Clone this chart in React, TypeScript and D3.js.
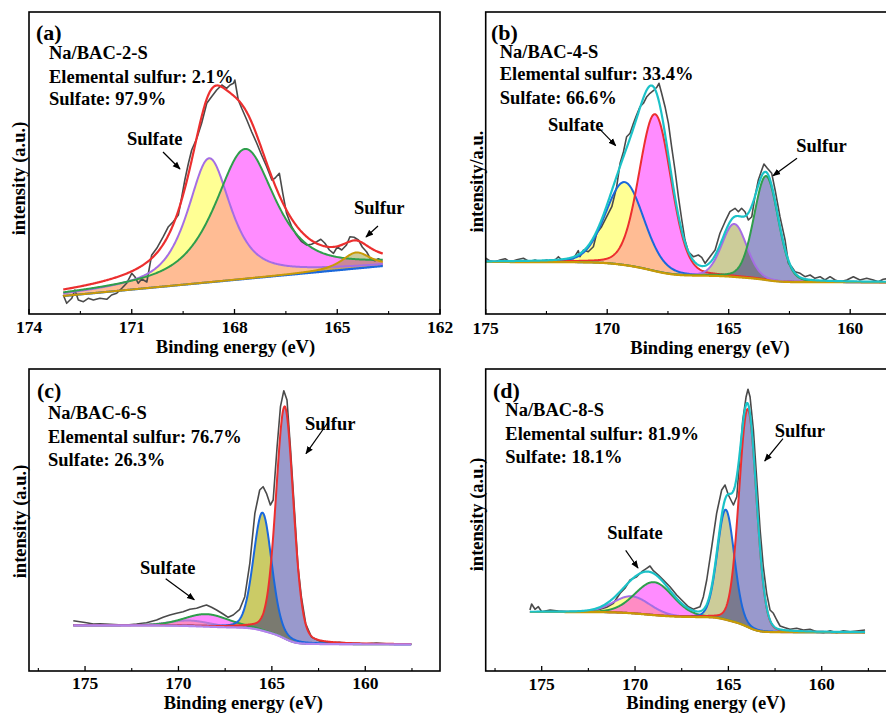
import React from "react";
import * as d3 from "d3";

type Pt = [number, number];

// ===== (a) Na/BAC-2-S =====
const rawA: Pt[] = [
  [173.0, 19.0], [172.9, 10.7], [172.75, 15.7], [172.66, 24.0], [172.56, 14.0], [172.41, 12.3], [172.27, 15.7],
  [172.12, 14.0], [171.93, 15.7], [171.73, 14.7], [171.59, 19.0], [171.44, 20.7], [171.29, 25.7], [171.15, 30.7],
  [171.0, 40.7], [170.91, 37.3], [170.81, 30.7], [170.71, 35.0], [170.56, 32.0], [170.42, 58.7], [170.27, 65.7],
  [170.08, 77.3], [169.93, 87.3], [169.79, 92.3], [169.64, 99.0], [169.54, 117], [169.45, 134], [169.35, 150],
  [169.25, 164], [169.1, 175.7], [168.96, 190.7], [168.81, 210.7], [168.67, 217.3], [168.52, 224], [168.37, 229],
  [168.23, 225.7], [168.13, 229], [168.03, 230.7], [167.99, 234], [167.89, 214], [167.79, 205.7], [167.64, 194],
  [167.5, 182.3], [167.35, 170.7], [167.21, 159], [167.06, 147.3], [166.91, 134], [166.82, 135.7], [166.69, 140.7],
  [166.59, 120.7], [166.48, 100.7], [166.33, 87.3], [166.19, 79], [166.04, 72.3], [165.89, 69], [165.75, 69.7],
  [165.6, 72.3], [165.48, 74.7], [165.36, 70.7], [165.23, 64], [165.11, 60.7], [165.0, 67], [164.87, 64],
  [164.73, 69], [164.63, 77.3], [164.51, 76.7], [164.38, 74], [164.27, 67], [164.14, 62], [164.02, 54.7],
  [163.9, 53.3], [163.8, 55.3], [163.7, 53.3],
];
const centersA = [168.74, 167.69, 164.45];
const heightsA = [124, 130, 16];
const fwhmA = [1.5, 2.1, 1.0];
const bgLineA: Pt[] = [[173.0, 18], [163.67, 48]];
const majorA = [174, 171, 168, 165, 162];
const minorA = [172.5, 169.5, 166.5, 163.5];

// ===== (b) Na/BAC-4-S =====
const rawB: Pt[] = [
  [175.0, 55.7], [174.84, 53.3], [174.63, 52], [174.41, 54], [174.2, 55.3], [174.0, 52], [173.72, 54.3],
  [173.45, 55.7], [173.18, 52], [172.97, 54], [172.76, 52], [172.49, 54], [172.22, 52.3], [172.01, 57.3],
  [171.87, 54], [171.67, 55.3], [171.39, 55.3], [171.19, 63.3], [171.12, 57.3], [170.98, 64], [170.78, 62.3],
  [170.57, 67.3], [170.43, 80.7], [170.23, 87.3], [170.02, 97.3], [169.81, 107.3], [169.61, 127.3],
  [169.47, 150.7], [169.33, 162.3], [169.2, 177.3], [169.06, 180.7], [168.92, 190.7], [168.79, 199],
  [168.65, 207.3], [168.51, 210.7], [168.37, 217.3], [168.24, 220.7], [168.1, 223.3], [167.96, 226.7],
  [167.87, 230.7], [167.76, 220.7], [167.62, 207.3], [167.48, 190.7], [167.35, 167.3], [167.21, 144],
  [167.07, 117.3], [166.93, 94], [166.8, 74], [166.66, 62.3], [166.45, 57.3], [166.25, 59], [166.11, 56.7],
  [165.97, 50.7], [165.77, 57.3], [165.56, 64], [165.36, 80.7], [165.15, 92.3], [164.95, 102.3], [164.74, 105.7],
  [164.6, 102.3], [164.47, 105.7], [164.33, 102.3], [164.19, 94], [164.05, 97.3], [163.92, 117.3], [163.78, 134],
  [163.64, 144], [163.55, 150], [163.41, 145.7], [163.23, 140.7], [163.09, 124], [162.89, 97.3], [162.68, 74],
  [162.54, 50.7], [162.41, 47.3], [162.27, 42.3], [162.06, 40.7], [161.86, 37.3], [161.65, 39], [161.45, 35.7],
  [161.24, 37.3], [161.04, 34], [160.83, 37.3], [160.62, 34], [160.42, 32.3], [160.14, 34], [159.87, 37.3],
  [159.6, 34], [159.32, 35.7], [159.05, 34], [158.84, 32.3], [158.64, 34.7], [158.37, 35.7],
];
const centersB = [169.28, 168.03, 164.77, 163.46];
const heightsB = [83, 157, 53, 104];
const fwhmB = [1.85, 1.55, 1.2, 1.17];
const shirleyB = [52, 31.7];
const majorB = [175, 170, 165, 160];
const minorB = [172.5, 167.5, 162.5];

// ===== (c) Na/BAC-6-S =====
const rawC: Pt[] = [
  [175.63, 50.3], [175.27, 49.3], [174.92, 48.3], [174.56, 47], [174.2, 47.3], [173.67, 46.7], [173.2, 46.3],
  [172.78, 46], [172.24, 47], [171.71, 48.3], [171.17, 51], [170.82, 53.7], [170.46, 56], [170.1, 57.7],
  [169.75, 59.3], [169.39, 61.7], [169.03, 62.7], [168.68, 65], [168.5, 66], [168.23, 63.7], [167.96, 61],
  [167.61, 57], [167.34, 53.7], [167.07, 56], [166.72, 61.7], [166.45, 74.3], [166.18, 107.7], [165.91, 157.7],
  [165.65, 181], [165.47, 184.3], [165.29, 177.7], [165.08, 166], [164.93, 171], [164.72, 224.3], [164.54, 264.3],
  [164.36, 280.3], [164.19, 271], [164.01, 224.3], [163.78, 157.7], [163.6, 104.3], [163.42, 74], [163.19, 47.3],
  [162.88, 34], [162.44, 30], [161.9, 28.3], [161.4, 28.7], [161.01, 28], [160.5, 27.6], [159.94, 27.3],
  [159.4, 28], [158.87, 27.3], [158.3, 27], [157.54, 26.7],
];
const centersC = [169.39, 168.5, 165.5, 164.31];
const heightsC = [5.5, 12.5, 118, 232];
const fwhmC = [2.6, 2.8, 1.15, 1.1];
const shirleyC = [45.7, 26.7];
const majorC = [175, 170, 165, 160];
const minorC = [177.5, 172.5, 167.5, 162.5, 157.5];

// ===== (d) Na/BAC-8-S =====
const rawD: Pt[] = [
  [175.63, 61], [175.54, 67], [175.36, 61.7], [175.18, 64.3], [175.0, 59.3], [174.55, 61], [174.11, 60],
  [173.66, 59.3], [173.13, 58.7], [172.59, 59.3], [172.23, 61], [171.88, 61.7], [171.52, 63.7], [171.16, 67.7],
  [170.8, 77.7], [170.54, 82.7], [170.27, 91], [169.91, 94.3], [169.64, 99.3], [169.38, 102.7], [169.2, 105],
  [169.02, 100.3], [168.75, 96], [168.48, 91], [168.13, 84.3], [167.77, 76], [167.41, 69.3], [167.14, 64.3],
  [166.88, 61.7], [166.52, 64.3], [166.34, 74.3], [166.16, 91], [165.89, 124.3], [165.63, 157.7], [165.36, 181],
  [165.18, 186], [165.0, 176], [164.73, 166], [164.55, 174.3], [164.41, 207.7], [164.23, 251], [164.05, 274.3],
  [163.95, 281.7], [163.84, 274.3], [163.66, 241], [163.48, 191], [163.3, 141], [163.13, 104.3], [162.95, 77.7],
  [162.77, 61], [162.59, 57.7], [162.41, 51], [162.23, 45], [161.96, 43.3], [161.7, 41.7], [161.34, 42.7],
  [160.98, 41], [160.63, 41.7], [160.27, 39.3], [159.91, 38.3], [159.55, 40.3], [159.2, 38.3], [158.84, 40.3],
  [158.48, 39.3], [158.13, 40], [157.68, 41],
];
const centersD = [170.18, 168.98, 165.14, 163.96];
const heightsD = [17, 33, 110, 218];
const fwhmD = [2.3, 2.4, 1.07, 1.1];
const shirleyD = [59, 38.7];
const majorD = [175, 170, 165, 160];
const minorD = [177.5, 172.5, 167.5, 162.5, 157.5];

// ---------- styling ----------
const FONT =
  '"Liberation Serif", Tinos, "Times New Roman", Times, "Nimbus Roman", FreeSerif, "Noto Serif", "DejaVu Serif", serif';
const C = {
  purple: "#a56ee4",
  green: "#2f9e4c",
  gold: "#c99a06",
  blue: "#1a68dc",
  red: "#ec2f2f",
  cyan: "#1cc2c8",
  lav: "#b184ec",
  raw: "#4a4a4a",
};

function pv(E: number, c: number, h: number, w: number, eta: number) {
  const hw = w / 2;
  const r2 = ((E - c) / hw) ** 2;
  return h * (eta / (1 + r2) + (1 - eta) * Math.exp(-Math.LN2 * r2));
}

interface Comp { line: string; fill: string; op: number }
interface Cfg {
  id: string;
  left: number; right: number; top: number; bottom: number;
  domain: [number, number];
  majors: number[]; minors: number[];
  raw: Pt[];
  centers: number[]; heights: number[]; fwhm: number[]; eta: number;
  bgLine?: Pt[]; shirley?: number[];
  fitRange: [number, number];
  comps: Comp[]; fillOrder: number[];
  baseColor: string; baseOnTop: boolean; envColor: string | null;
  tickBase: number; title: [number, number];
  ylabel: string; ylab: [number, number];
  label: string; labelPos: [number, number];
  lines: string[]; linesX: number; linesY: number[];
  notes: { t: string; x: number; y: number; a: [number, number, number, number] }[];
}

const YEL: Comp = { line: C.purple, fill: "#ffff00", op: 0.42 };
const MAG: Comp = { line: C.green, fill: "#ff00ff", op: 0.45 };
const NAVY: Comp = { line: C.red, fill: "#000080", op: 0.4 };

const panels: Cfg[] = [
  {
    id: "a", left: 29, right: 440, top: 12, bottom: 314, domain: [174, 162],
    majors: majorA, minors: minorA, raw: rawA,
    centers: centersA, heights: heightsA, fwhm: fwhmA, eta: 0.75, bgLine: bgLineA,
    fitRange: [173.0, 163.67],
    comps: [YEL, MAG, { line: C.gold, fill: "#808000", op: 0.4 }], fillOrder: [1, 0, 2],
    baseColor: C.blue, baseOnTop: false, envColor: C.red,
    tickBase: 333, title: [235.5, 352.5],
    ylabel: "intensity (a.u.)", ylab: [25, 178.5],
    label: "(a)", labelPos: [36, 39.5],
    lines: ["Na/BAC-2-S", "Elemental sulfur: 2.1%", "Sulfate: 97.9%"], linesX: 49, linesY: [58.5, 82.5, 105],
    notes: [
      { t: "Sulfate", x: 127, y: 145, a: [163, 152, 180, 169] },
      { t: "Sulfur", x: 354, y: 214, a: [378, 226, 366, 237] },
    ],
  },
  {
    id: "b", left: 485.7, right: 898.8, top: 12, bottom: 314, domain: [175, 158],
    majors: majorB, minors: minorB, raw: rawB,
    centers: centersB, heights: heightsB, fwhm: fwhmB, eta: 0.15, shirley: shirleyB,
    fitRange: [175, 158.2],
    comps: [{ line: C.blue, fill: "#ffff00", op: 0.42 }, { line: C.red, fill: "#ff00ff", op: 0.45 },
      { line: C.purple, fill: "#808000", op: 0.4 }, { line: C.green, fill: "#000080", op: 0.4 }],
    fillOrder: [1, 0, 2, 3],
    baseColor: C.gold, baseOnTop: true, envColor: C.cyan,
    tickBase: 333.5, title: [710, 353.5],
    ylabel: "intensity/a.u.", ylab: [483, 181.5],
    label: "(b)", labelPos: [491, 39.5],
    lines: ["Na/BAC-4-S", "Elemental sulfur: 33.4%", "Sulfate: 66.6%"], linesX: 499.7, linesY: [57.5, 80, 103.5],
    notes: [
      { t: "Sulfate", x: 548, y: 131, a: [599, 128.3, 615.7, 145.7] },
      { t: "Sulfur", x: 796.3, y: 151.5, a: [797, 158.3, 773, 175.7] },
    ],
  },
  {
    id: "c", left: 29, right: 440, top: 369, bottom: 671, domain: [178, 156],
    majors: majorC, minors: minorC, raw: rawC,
    centers: centersC, heights: heightsC, fwhm: fwhmC, eta: 0.2, shirley: shirleyC,
    fitRange: [175.63, 157.54],
    comps: [{ line: "#b678d8", fill: "#ffff00", op: 0.42 }, MAG,
      { line: C.blue, fill: "#a8a800", op: 0.6 }, NAVY],
    fillOrder: [0, 1, 2, 3],
    baseColor: C.lav, baseOnTop: true, envColor: null,
    tickBase: 689, title: [243.3, 708.5],
    ylabel: "intensity (a.u.)", ylab: [26, 521.5],
    label: "(c)", labelPos: [37, 398],
    lines: ["Na/BAC-6-S", "Elemental sulfur: 76.7%", "Sulfate: 26.3%"], linesX: 48, linesY: [418.7, 443, 465.7],
    notes: [
      { t: "Sulfate", x: 140, y: 573.7, a: [165.7, 578.7, 194.3, 599.7] },
      { t: "Sulfur", x: 305, y: 429.7, a: [328.3, 422, 306, 453.7] },
    ],
  },
  {
    id: "d", left: 485.7, right: 896.4, top: 369, bottom: 671, domain: [178, 156],
    majors: majorD, minors: minorD, raw: rawD,
    centers: centersD, heights: heightsD, fwhm: fwhmD, eta: 0.1, shirley: shirleyD,
    fitRange: [175.63, 157.68],
    comps: [YEL, MAG, { line: C.blue, fill: "#808000", op: 0.4 }, NAVY],
    fillOrder: [0, 1, 2, 3],
    baseColor: C.gold, baseOnTop: true, envColor: C.cyan,
    tickBase: 689.5, title: [706, 708.5],
    ylabel: "intensity (a.u.)", ylab: [483, 514.5],
    label: "(d)", labelPos: [493, 397.5],
    lines: ["Na/BAC-8-S", "Elemental sulfur: 81.9%", "Sulfate: 18.1%"], linesX: 505.3, linesY: [416, 439.7, 463],
    notes: [
      { t: "Sulfate", x: 607.3, y: 538.7, a: [625.7, 550.3, 638, 568] },
      { t: "Sulfur", x: 774.7, y: 437, a: [783, 438.7, 764.7, 461] },
    ],
  },
];

function Panel({ cfg }: { cfg: Cfg }) {
  const x = d3.scaleLinear().domain(cfg.domain).range([cfg.left, cfg.right]);
  const y = d3.scaleLinear().domain([0, 302]).range([cfg.bottom, cfg.top]);

  const [eHi, eLo] = cfg.fitRange;
  const n = Math.round((eHi - eLo) / 0.02);
  const Es = d3.range(n + 1).map((i) => eLo + ((eHi - eLo) * i) / n);
  const peaks = cfg.centers.map((c, i) => Es.map((E) => pv(E, c, cfg.heights[i], cfg.fwhm[i], cfg.eta)));
  const total = Es.map((_, k) => d3.sum(peaks, (p) => p[k]));
  let bg: number[];
  if (cfg.bgLine) {
    const [[e0, v0], [e1, v1]] = cfg.bgLine;
    bg = Es.map((E) => v0 + ((E - e0) * (v1 - v0)) / (e1 - e0));
  } else {
    const [hi, lo] = cfg.shirley!;
    const cum = [0];
    for (let k = 1; k <= n; k++) cum[k] = cum[k - 1] + (total[k] + total[k - 1]) / 2;
    const T = cum[n];
    bg = cum.map((c) => lo + ((hi - lo) * c) / T);
  }
  const idx = d3.range(n + 1);
  const baseD = d3.line<number>().x((k) => x(Es[k])).y((k) => y(bg[k]))(idx) || "";
  const compLine = (i: number) =>
    d3.line<number>().x((k) => x(Es[k])).y((k) => y(bg[k] + peaks[i][k]))(idx) || "";
  const compArea = (i: number) =>
    d3.area<number>().x((k) => x(Es[k])).y0((k) => y(bg[k])).y1((k) => y(bg[k] + peaks[i][k]))(idx) || "";
  const envLine = d3.line<number>().x((k) => x(Es[k])).y((k) => y(bg[k] + total[k]))(idx) || "";
  const rawLine = d3.line<Pt>().x((d) => x(d[0])).y((d) => y(d[1]))(cfg.raw) || "";

  const clipId = "clip-" + cfg.id;
  const fs = 18.5;
  const baseEl = <path d={baseD} fill="none" stroke={cfg.baseColor} strokeWidth={2.2} />;
  return (
    <g>
      <defs>
        <clipPath id={clipId}>
          <rect x={cfg.left} y={cfg.top} width={cfg.right - cfg.left} height={cfg.bottom - cfg.top} />
        </clipPath>
      </defs>
      <g clipPath={`url(#${clipId})`}>
        {cfg.fillOrder.map((i) => (
          <path key={"f" + i} d={compArea(i)} fill={cfg.comps[i].fill} fillOpacity={cfg.comps[i].op} stroke="none" />
        ))}
        {!cfg.baseOnTop && baseEl}
        <path d={rawLine} fill="none" stroke={C.raw} strokeWidth={1.6} strokeLinejoin="round" />
        {cfg.comps.map((c, i) => (
          <path key={"l" + i} d={compLine(i)} fill="none" stroke={c.line} strokeWidth={2} />
        ))}
        {cfg.baseOnTop && baseEl}
        {cfg.envColor && <path d={envLine} fill="none" stroke={cfg.envColor} strokeWidth={2.2} />}
      </g>
      <rect x={cfg.left} y={cfg.top} width={cfg.right - cfg.left} height={cfg.bottom - cfg.top}
        fill="none" stroke="#000" strokeWidth={1.6} />
      {cfg.majors.map((t) => (
        <line key={"M" + t} x1={x(t)} x2={x(t)} y1={cfg.bottom} y2={cfg.bottom - 5} stroke="#000" strokeWidth={1.3} />
      ))}
      {cfg.minors.map((t) => (
        <line key={"m" + t} x1={x(t)} x2={x(t)} y1={cfg.bottom} y2={cfg.bottom - 3} stroke="#000" strokeWidth={1.1} />
      ))}
      <g style={{ fontFamily: FONT, fontWeight: 700 }} fill="#000">
        {cfg.majors.map((t) => (
          <text key={"T" + t} x={x(t)} y={cfg.tickBase} fontSize={17.5} textAnchor="middle">{t}</text>
        ))}
        <text x={cfg.title[0]} y={cfg.title[1]} fontSize={fs} textAnchor="middle">Binding energy (eV)</text>
        <text transform={`translate(${cfg.ylab[0]},${cfg.ylab[1]}) rotate(-90)`} fontSize={fs} textAnchor="middle">
          {cfg.ylabel}
        </text>
        <text x={cfg.labelPos[0]} y={cfg.labelPos[1]} fontSize={22}>{cfg.label}</text>
        {cfg.lines.map((s, i) => (
          <text key={"s" + i} x={cfg.linesX} y={cfg.linesY[i]} fontSize={fs}>{s}</text>
        ))}
        {cfg.notes.map((nt, i) => (
          <g key={"n" + i}>
            <text x={nt.x} y={nt.y} fontSize={fs}>{nt.t}</text>
            <line x1={nt.a[0]} y1={nt.a[1]} x2={nt.a[2]} y2={nt.a[3]} stroke="#000" strokeWidth={1.2}
              markerEnd="url(#arrowHead)" />
          </g>
        ))}
      </g>
    </g>
  );
}

export default function App() {
  return (
    <svg width={886} height={715} viewBox="0 0 886 715"
      style={{ position: "absolute", left: 0, top: 0, background: "#fff", fontFamily: FONT }}>
      <defs>
        <marker id="arrowHead" viewBox="0 0 10 10" refX={9} refY={5} markerWidth={8} markerHeight={8}
          markerUnits="userSpaceOnUse" orient="auto">
          <path d="M0,1 L10,5 L0,9 z" fill="#000" />
        </marker>
      </defs>
      <rect width={886} height={715} fill="#fff" />
      {panels.map((p) => (
        <Panel key={p.id} cfg={p} />
      ))}
    </svg>
  );
}
